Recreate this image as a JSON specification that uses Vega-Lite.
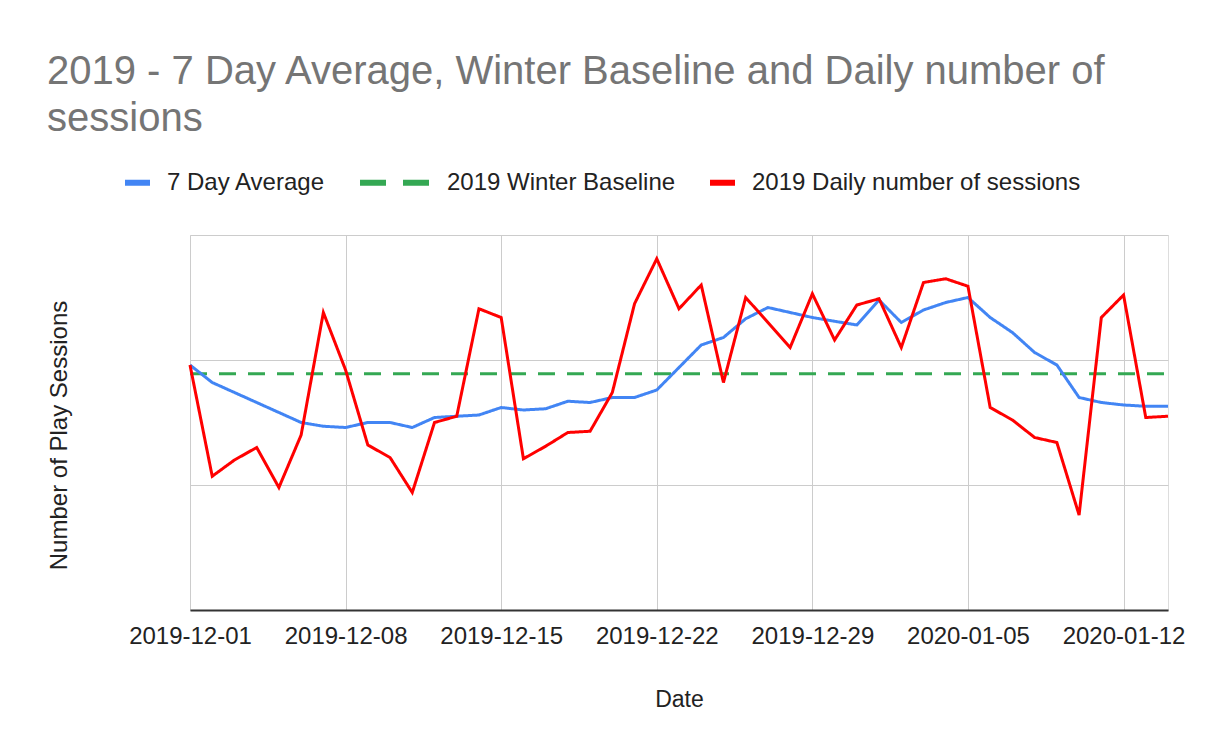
{
  "$schema": "https://vega.github.io/schema/vega-lite/v6.json",
  "autosize": {"type": "none"},
  "width": 978,
  "height": 375,
  "padding": {"left": 190, "top": 235, "right": 37, "bottom": 135},
  "background": "#ffffff",
  "title": {
    "text": ["2019 - 7 Day Average, Winter Baseline and Daily number of", "sessions"],
    "anchor": "start",
    "frame": "bounds",
    "orient": "top",
    "font": "Liberation Sans",
    "fontSize": 40,
    "fontWeight": "normal",
    "color": "#757575",
    "lineHeight": 47,
    "baseline": "bottom",
    "offset": -12
  },
  "datasets": {
    "sessions": [
      {"date": "2019-12-01", "series": "2019 Winter Baseline", "value": 189},
      {"date": "2019-12-02", "series": "2019 Winter Baseline", "value": 189},
      {"date": "2019-12-03", "series": "2019 Winter Baseline", "value": 189},
      {"date": "2019-12-04", "series": "2019 Winter Baseline", "value": 189},
      {"date": "2019-12-05", "series": "2019 Winter Baseline", "value": 189},
      {"date": "2019-12-06", "series": "2019 Winter Baseline", "value": 189},
      {"date": "2019-12-07", "series": "2019 Winter Baseline", "value": 189},
      {"date": "2019-12-08", "series": "2019 Winter Baseline", "value": 189},
      {"date": "2019-12-09", "series": "2019 Winter Baseline", "value": 189},
      {"date": "2019-12-10", "series": "2019 Winter Baseline", "value": 189},
      {"date": "2019-12-11", "series": "2019 Winter Baseline", "value": 189},
      {"date": "2019-12-12", "series": "2019 Winter Baseline", "value": 189},
      {"date": "2019-12-13", "series": "2019 Winter Baseline", "value": 189},
      {"date": "2019-12-14", "series": "2019 Winter Baseline", "value": 189},
      {"date": "2019-12-15", "series": "2019 Winter Baseline", "value": 189},
      {"date": "2019-12-16", "series": "2019 Winter Baseline", "value": 189},
      {"date": "2019-12-17", "series": "2019 Winter Baseline", "value": 189},
      {"date": "2019-12-18", "series": "2019 Winter Baseline", "value": 189},
      {"date": "2019-12-19", "series": "2019 Winter Baseline", "value": 189},
      {"date": "2019-12-20", "series": "2019 Winter Baseline", "value": 189},
      {"date": "2019-12-21", "series": "2019 Winter Baseline", "value": 189},
      {"date": "2019-12-22", "series": "2019 Winter Baseline", "value": 189},
      {"date": "2019-12-23", "series": "2019 Winter Baseline", "value": 189},
      {"date": "2019-12-24", "series": "2019 Winter Baseline", "value": 189},
      {"date": "2019-12-25", "series": "2019 Winter Baseline", "value": 189},
      {"date": "2019-12-26", "series": "2019 Winter Baseline", "value": 189},
      {"date": "2019-12-27", "series": "2019 Winter Baseline", "value": 189},
      {"date": "2019-12-28", "series": "2019 Winter Baseline", "value": 189},
      {"date": "2019-12-29", "series": "2019 Winter Baseline", "value": 189},
      {"date": "2019-12-30", "series": "2019 Winter Baseline", "value": 189},
      {"date": "2019-12-31", "series": "2019 Winter Baseline", "value": 189},
      {"date": "2020-01-01", "series": "2019 Winter Baseline", "value": 189},
      {"date": "2020-01-02", "series": "2019 Winter Baseline", "value": 189},
      {"date": "2020-01-03", "series": "2019 Winter Baseline", "value": 189},
      {"date": "2020-01-04", "series": "2019 Winter Baseline", "value": 189},
      {"date": "2020-01-05", "series": "2019 Winter Baseline", "value": 189},
      {"date": "2020-01-06", "series": "2019 Winter Baseline", "value": 189},
      {"date": "2020-01-07", "series": "2019 Winter Baseline", "value": 189},
      {"date": "2020-01-08", "series": "2019 Winter Baseline", "value": 189},
      {"date": "2020-01-09", "series": "2019 Winter Baseline", "value": 189},
      {"date": "2020-01-10", "series": "2019 Winter Baseline", "value": 189},
      {"date": "2020-01-11", "series": "2019 Winter Baseline", "value": 189},
      {"date": "2020-01-12", "series": "2019 Winter Baseline", "value": 189},
      {"date": "2020-01-13", "series": "2019 Winter Baseline", "value": 189},
      {"date": "2020-01-14", "series": "2019 Winter Baseline", "value": 189},
      {"date": "2019-12-01", "series": "7 Day Average", "value": 196},
      {"date": "2019-12-02", "series": "7 Day Average", "value": 182},
      {"date": "2019-12-03", "series": "7 Day Average", "value": 174},
      {"date": "2019-12-04", "series": "7 Day Average", "value": 166},
      {"date": "2019-12-05", "series": "7 Day Average", "value": 158},
      {"date": "2019-12-06", "series": "7 Day Average", "value": 150},
      {"date": "2019-12-07", "series": "7 Day Average", "value": 147},
      {"date": "2019-12-08", "series": "7 Day Average", "value": 146},
      {"date": "2019-12-09", "series": "7 Day Average", "value": 150},
      {"date": "2019-12-10", "series": "7 Day Average", "value": 150},
      {"date": "2019-12-11", "series": "7 Day Average", "value": 146},
      {"date": "2019-12-12", "series": "7 Day Average", "value": 154},
      {"date": "2019-12-13", "series": "7 Day Average", "value": 155},
      {"date": "2019-12-14", "series": "7 Day Average", "value": 156},
      {"date": "2019-12-15", "series": "7 Day Average", "value": 162},
      {"date": "2019-12-16", "series": "7 Day Average", "value": 160},
      {"date": "2019-12-17", "series": "7 Day Average", "value": 161},
      {"date": "2019-12-18", "series": "7 Day Average", "value": 167},
      {"date": "2019-12-19", "series": "7 Day Average", "value": 166},
      {"date": "2019-12-20", "series": "7 Day Average", "value": 170},
      {"date": "2019-12-21", "series": "7 Day Average", "value": 170},
      {"date": "2019-12-22", "series": "7 Day Average", "value": 176},
      {"date": "2019-12-23", "series": "7 Day Average", "value": 194},
      {"date": "2019-12-24", "series": "7 Day Average", "value": 212},
      {"date": "2019-12-25", "series": "7 Day Average", "value": 218},
      {"date": "2019-12-26", "series": "7 Day Average", "value": 233},
      {"date": "2019-12-27", "series": "7 Day Average", "value": 242},
      {"date": "2019-12-28", "series": "7 Day Average", "value": 238},
      {"date": "2019-12-29", "series": "7 Day Average", "value": 234},
      {"date": "2019-12-30", "series": "7 Day Average", "value": 231},
      {"date": "2019-12-31", "series": "7 Day Average", "value": 228},
      {"date": "2020-01-01", "series": "7 Day Average", "value": 248},
      {"date": "2020-01-02", "series": "7 Day Average", "value": 230},
      {"date": "2020-01-03", "series": "7 Day Average", "value": 240},
      {"date": "2020-01-04", "series": "7 Day Average", "value": 246},
      {"date": "2020-01-05", "series": "7 Day Average", "value": 250},
      {"date": "2020-01-06", "series": "7 Day Average", "value": 234},
      {"date": "2020-01-07", "series": "7 Day Average", "value": 222},
      {"date": "2020-01-08", "series": "7 Day Average", "value": 206},
      {"date": "2020-01-09", "series": "7 Day Average", "value": 196},
      {"date": "2020-01-10", "series": "7 Day Average", "value": 170},
      {"date": "2020-01-11", "series": "7 Day Average", "value": 166},
      {"date": "2020-01-12", "series": "7 Day Average", "value": 164},
      {"date": "2020-01-13", "series": "7 Day Average", "value": 163},
      {"date": "2020-01-14", "series": "7 Day Average", "value": 163},
      {"date": "2019-12-01", "series": "2019 Daily number of sessions", "value": 196},
      {"date": "2019-12-02", "series": "2019 Daily number of sessions", "value": 107},
      {"date": "2019-12-03", "series": "2019 Daily number of sessions", "value": 120},
      {"date": "2019-12-04", "series": "2019 Daily number of sessions", "value": 130},
      {"date": "2019-12-05", "series": "2019 Daily number of sessions", "value": 98},
      {"date": "2019-12-06", "series": "2019 Daily number of sessions", "value": 140},
      {"date": "2019-12-07", "series": "2019 Daily number of sessions", "value": 238},
      {"date": "2019-12-08", "series": "2019 Daily number of sessions", "value": 192},
      {"date": "2019-12-09", "series": "2019 Daily number of sessions", "value": 132},
      {"date": "2019-12-10", "series": "2019 Daily number of sessions", "value": 122},
      {"date": "2019-12-11", "series": "2019 Daily number of sessions", "value": 94},
      {"date": "2019-12-12", "series": "2019 Daily number of sessions", "value": 150},
      {"date": "2019-12-13", "series": "2019 Daily number of sessions", "value": 155},
      {"date": "2019-12-14", "series": "2019 Daily number of sessions", "value": 241},
      {"date": "2019-12-15", "series": "2019 Daily number of sessions", "value": 234},
      {"date": "2019-12-16", "series": "2019 Daily number of sessions", "value": 121},
      {"date": "2019-12-17", "series": "2019 Daily number of sessions", "value": 131},
      {"date": "2019-12-18", "series": "2019 Daily number of sessions", "value": 142},
      {"date": "2019-12-19", "series": "2019 Daily number of sessions", "value": 143},
      {"date": "2019-12-20", "series": "2019 Daily number of sessions", "value": 174},
      {"date": "2019-12-21", "series": "2019 Daily number of sessions", "value": 245},
      {"date": "2019-12-22", "series": "2019 Daily number of sessions", "value": 281},
      {"date": "2019-12-23", "series": "2019 Daily number of sessions", "value": 241},
      {"date": "2019-12-24", "series": "2019 Daily number of sessions", "value": 260},
      {"date": "2019-12-25", "series": "2019 Daily number of sessions", "value": 182},
      {"date": "2019-12-26", "series": "2019 Daily number of sessions", "value": 250},
      {"date": "2019-12-27", "series": "2019 Daily number of sessions", "value": 230},
      {"date": "2019-12-28", "series": "2019 Daily number of sessions", "value": 210},
      {"date": "2019-12-29", "series": "2019 Daily number of sessions", "value": 253},
      {"date": "2019-12-30", "series": "2019 Daily number of sessions", "value": 216},
      {"date": "2019-12-31", "series": "2019 Daily number of sessions", "value": 244},
      {"date": "2020-01-01", "series": "2019 Daily number of sessions", "value": 249},
      {"date": "2020-01-02", "series": "2019 Daily number of sessions", "value": 210},
      {"date": "2020-01-03", "series": "2019 Daily number of sessions", "value": 262},
      {"date": "2020-01-04", "series": "2019 Daily number of sessions", "value": 265},
      {"date": "2020-01-05", "series": "2019 Daily number of sessions", "value": 259},
      {"date": "2020-01-06", "series": "2019 Daily number of sessions", "value": 162},
      {"date": "2020-01-07", "series": "2019 Daily number of sessions", "value": 152},
      {"date": "2020-01-08", "series": "2019 Daily number of sessions", "value": 138},
      {"date": "2020-01-09", "series": "2019 Daily number of sessions", "value": 134},
      {"date": "2020-01-10", "series": "2019 Daily number of sessions", "value": 76},
      {"date": "2020-01-11", "series": "2019 Daily number of sessions", "value": 234},
      {"date": "2020-01-12", "series": "2019 Daily number of sessions", "value": 252},
      {"date": "2020-01-13", "series": "2019 Daily number of sessions", "value": 154},
      {"date": "2020-01-14", "series": "2019 Daily number of sessions", "value": 155}
    ]
  },
  "data": {"name": "sessions"},
  "mark": {"type": "line", "strokeWidth": 3, "strokeCap": "butt", "strokeJoin": "miter", "interpolate": "linear"},
  "encoding": {
    "x": {
      "field": "date",
      "type": "temporal",
      "scale": {"type": "utc", "nice": false},
      "axis": {
        "title": "Date",
        "labelExpr": "utcFormat(datum.value, '%Y-%m-%d')",
        "tickCount": {"interval": "week", "step": 1},
        "labelFlush": false,
        "labelOverlap": false,
        "labelFont": "Liberation Sans",
        "labelFontSize": 24,
        "labelColor": "#222222",
        "labelPadding": 14,
        "ticks": false,
        "domainColor": "#333333",
        "domainWidth": 2,
        "grid": true,
        "gridColor": "#cccccc",
        "gridWidth": 1,
        "titleFont": "Liberation Sans",
        "titleFontSize": 23,
        "titleFontWeight": "normal",
        "titleColor": "#222222",
        "titlePadding": 40
      }
    },
    "y": {
      "field": "value",
      "type": "quantitative",
      "scale": {"domain": [0, 300], "nice": false, "zero": true},
      "axis": {
        "title": "Number of Play Sessions",
        "values": [0, 100, 200, 300],
        "labels": false,
        "ticks": false,
        "domain": false,
        "grid": true,
        "gridColor": "#cccccc",
        "gridWidth": 1,
        "titleFont": "Liberation Sans",
        "titleFontSize": 24,
        "titleFontWeight": "normal",
        "titleColor": "#222222",
        "titlePadding": 119,
        "titleY": 200
      }
    },
    "color": {
      "field": "series",
      "type": "nominal",
      "sort": null,
      "scale": {
        "domain": ["7 Day Average", "2019 Winter Baseline", "2019 Daily number of sessions"],
        "range": ["#4285F4", "#34A853", "#FF0000"]
      },
      "legend": {
        "title": null,
        "orient": "none",
        "legendX": -68,
        "legendY": -68,
        "direction": "horizontal",
        "padding": 0,
        "symbolType": "stroke",
        "symbolSize": 625,
        "symbolStrokeWidth": 6,
        "symbolOffset": 0,
        "labelOffset": 14,
        "columnPadding": 22,
        "labelFont": "Liberation Sans",
        "labelFontSize": 24,
        "labelColor": "#222222",
        "labelLimit": 0,
        "encode": {
          "symbols": {
            "update": {
              "size": {"signal": "datum.value === '2019 Winter Baseline' ? 4900 : 625"},
              "x": {"signal": "datum.value === '2019 Winter Baseline' ? datum.size * 0.5 + 22.5 : datum.size * 0.5"},
              "strokeDash": {"signal": "datum.value === '2019 Winter Baseline' ? [26, 17] : [1, 0]"}
            }
          },
          "labels": {
            "update": {
              "x": {"signal": "datum.value === '2019 Winter Baseline' ? datum.size + 59 : datum.size + 14"}
            }
          }
        }
      }
    },
    "strokeDash": {
      "condition": {"test": "datum.series === '2019 Winter Baseline'", "value": [17, 12]},
      "value": [1, 0]
    }
  }
}
